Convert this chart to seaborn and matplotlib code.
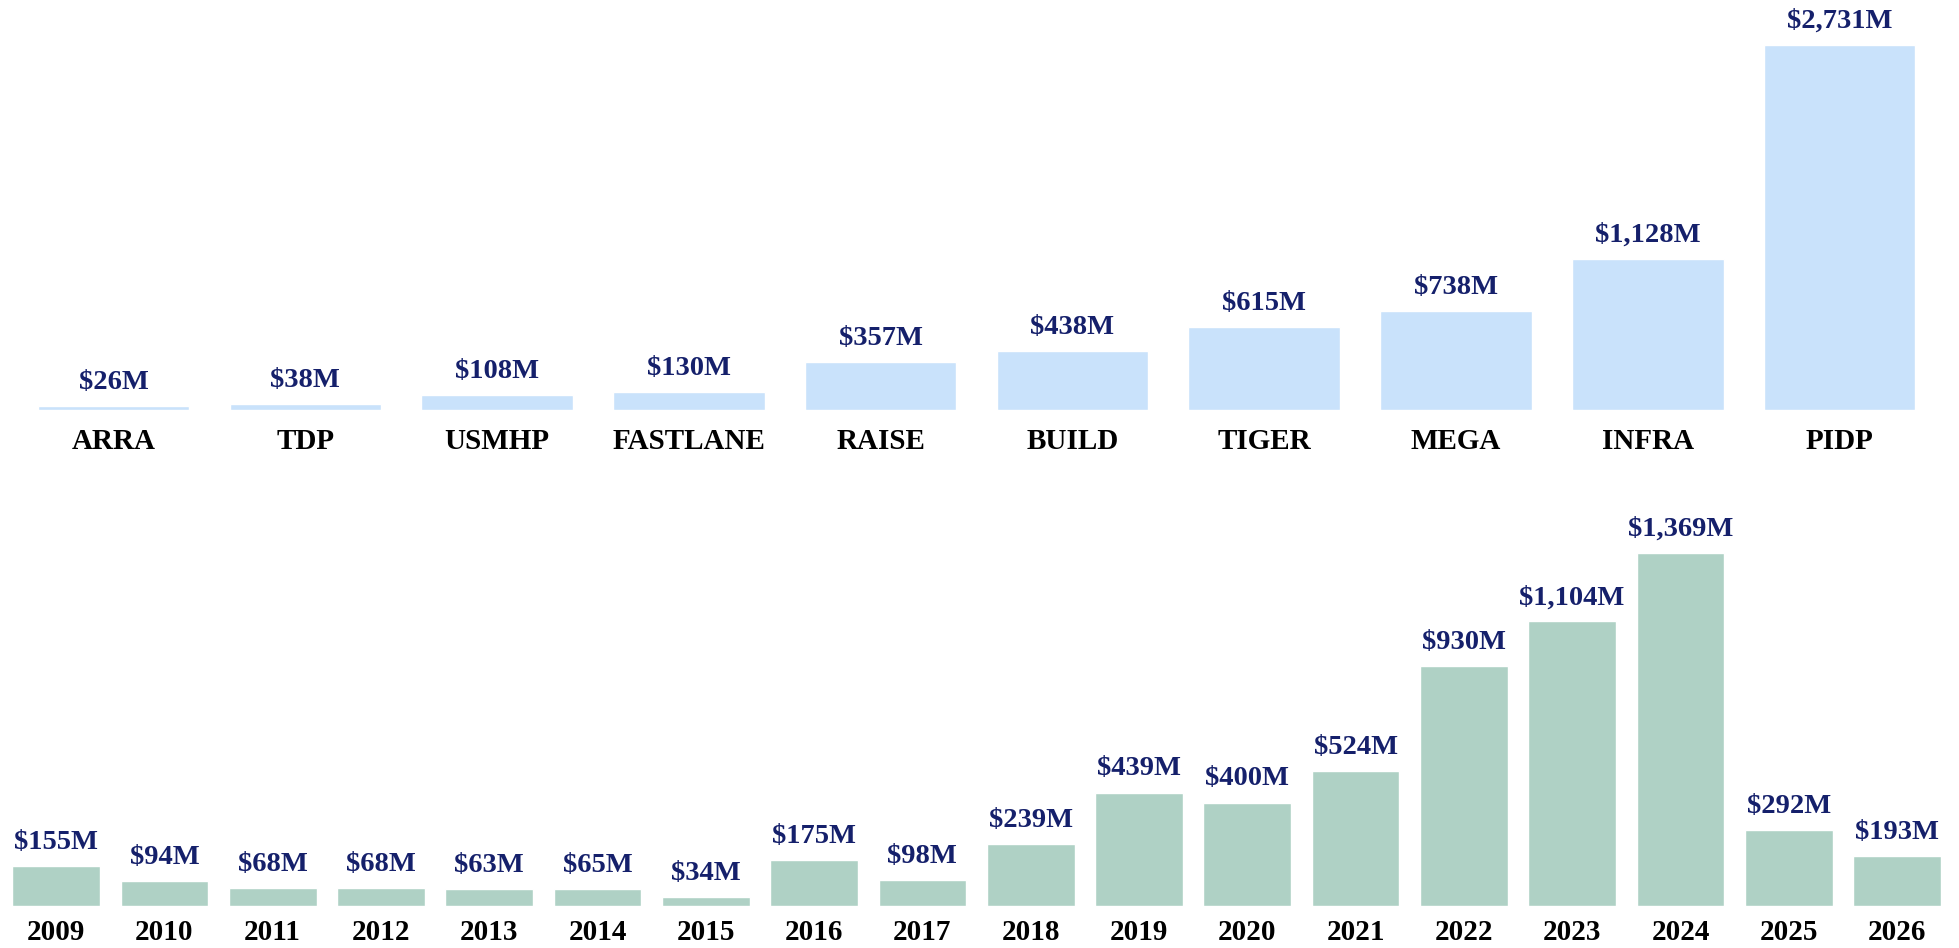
import seaborn as sns
import pandas as pd
import matplotlib.pyplot as plt

programs = ['ARRA', 'TDP', 'USMHP', 'FASTLANE', 'RAISE', 'BUILD', 'TIGER', 'MEGA', 'INFRA', 'PIDP']
program_amt = [26, 38, 108, 130, 357, 438, 615, 738, 1128, 2731]

years = ['2009', '2010', '2011', '2012', '2013', '2014', '2015', '2016', '2017',
         '2018', '2019', '2020', '2021', '2022', '2023', '2024', '2025', '2026']
year_amt = [155, 94, 68, 68, 63, 65, 34, 175, 98, 239, 439, 400, 524, 930, 1104, 1369, 292, 193]

sns.set_theme(style='white')
plt.rcParams['font.family'] = ['Liberation Serif', 'DejaVu Serif']

fig = plt.figure(figsize=(19.59, 9.48), dpi=100)
ax1 = fig.add_axes([0.009, 0.568, 0.979, 0.432])
ax2 = fig.add_axes([0.001, 0.0448, 0.995, 0.4216])

df1 = pd.DataFrame({'program': programs, 'amt': program_amt})
df2 = pd.DataFrame({'year': years, 'amt': year_amt})

sns.barplot(data=df1, x='program', y='amt', color='#c9e2fb', saturation=1, width=0.79, ax=ax1)
sns.barplot(data=df2, x='year', y='amt', color='#afd1c5', saturation=1, width=0.81, ax=ax2)

ax1.set_ylim(0, 3067)
ax2.set_ylim(0, 1553)

for ax, pad in [(ax1, 13), (ax2, 10)]:
    ax.bar_label(ax.containers[0], labels=[f'${v:,.0f}M' for v in ax.containers[0].datavalues],
                 padding=8, fontsize=20.5, fontweight='bold', color='#15206b')
    ax.set_xlabel('')
    ax.set_ylabel('')
    ax.set_yticks([])
    ax.tick_params(axis='x', length=0, pad=pad)
    for lab in ax.get_xticklabels():
        lab.set_fontsize(21)
        lab.set_fontweight('bold')
        lab.set_color('black')
    sns.despine(ax=ax, left=True, bottom=True)

fig.savefig('out.png', dpi=100)
